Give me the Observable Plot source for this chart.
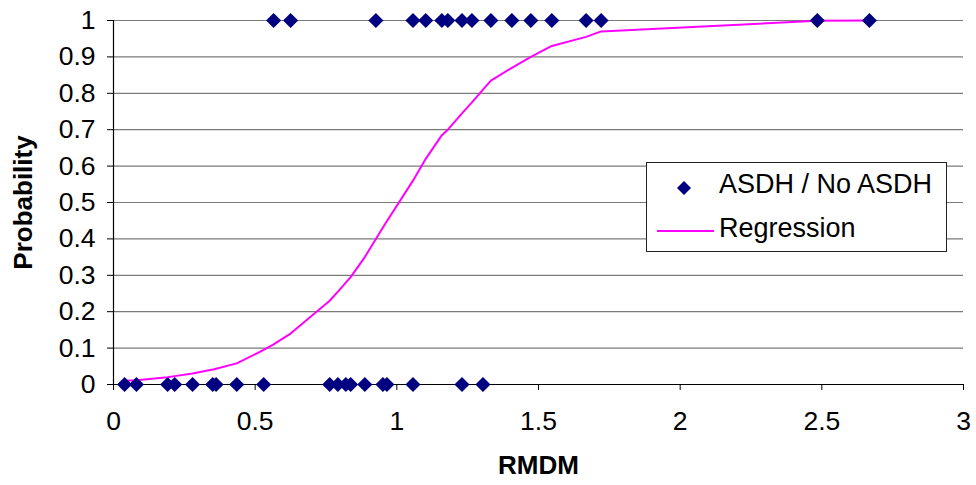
<!DOCTYPE html>
<html>
<head>
<meta charset="utf-8">
<script src="https://cdn.jsdelivr.net/npm/d3@7"></script>
<script src="https://cdn.jsdelivr.net/npm/@observablehq/plot@0.6"></script>
<style>
  body { margin: 0; background: white; }
  #wrap { position: relative; width: 976px; height: 485px; font-family: "Liberation Sans", Arial, sans-serif; }
  #wrap g[aria-label$="tick label"] { font-size: 26.5px; }
  #legend { position: absolute; left: 646px; top: 162px; width: 299px; height: 88px; border: 1px solid #222; background: white; }
  #legend svg { font-family: "Liberation Sans", Arial, sans-serif; font-size: 27px; }
</style>
</head>
<body>
<div id="wrap"></div>
<script>
// Observed outcomes (ASDH = 1, No ASDH = 0)
const asdhX = [0.565, 0.625, 0.926, 1.057, 1.102, 1.159, 1.180, 1.230, 1.265, 1.332, 1.406, 1.473, 1.547, 1.668, 1.721, 2.484, 2.668];
const noAsdhX = [0.039, 0.081, 0.191, 0.216, 0.279, 0.350, 0.362, 0.435, 0.530, 0.763, 0.792, 0.820, 0.837, 0.887, 0.951, 0.965, 1.057, 1.230, 1.304];
// Regression curve
const regX = [0.039, 0.081, 0.191, 0.216, 0.279, 0.355, 0.435, 0.530, 0.565, 0.625, 0.763, 0.792, 0.820, 0.837, 0.887, 0.926, 0.958, 1.057, 1.102, 1.159, 1.180, 1.230, 1.265, 1.304, 1.332, 1.406, 1.473, 1.547, 1.668, 1.721, 2.484, 2.668];
const regP = [0.010, 0.012, 0.020, 0.023, 0.030, 0.042, 0.058, 0.095, 0.110, 0.140, 0.230, 0.255, 0.280, 0.295, 0.350, 0.400, 0.440, 0.560, 0.620, 0.685, 0.700, 0.745, 0.775, 0.810, 0.835, 0.870, 0.900, 0.930, 0.955, 0.970, 0.999, 1.000];
// Axis ticks
const xTicks = [0, 0.5, 1, 1.5, 2, 2.5, 3];
const yTicks = [0, 0.1, 0.2, 0.3, 0.4, 0.5, 0.6, 0.7, 0.8, 0.9, 1];
const xLabel = "RMDM";
const yLabel = "Probability";
const seriesNames = ["ASDH / No ASDH", "Regression"];

const points = [
  ...asdhX.map(x => ({x, y: 1})),
  ...noAsdhX.map(x => ({x, y: 0}))
];
const reg = regX.map((x, i) => ({x, y: regP[i]}));

const font = "'Liberation Sans', Arial, sans-serif";

const chart = Plot.plot({
  width: 976,
  height: 485,
  marginLeft: 113,
  marginRight: 13,
  marginTop: 20,
  marginBottom: 101,
  style: { fontFamily: font, fontSize: "26px", color: "black", background: "white", overflow: "visible" },
  x: { domain: [0, 3] },
  y: { domain: [0, 1] },
  marks: [
    Plot.ruleY(yTicks, { stroke: "#7a7a7a", strokeWidth: 1.2 }),
    Plot.ruleY([0], { stroke: "black", strokeWidth: 1.2 }),
    Plot.ruleX([0], { stroke: "black", strokeWidth: 1.2 }),
    Plot.axisX({ ticks: xTicks, tickSize: 6, tickPadding: 21, tickFormat: d => String(d), label: null }),
    Plot.axisY({ ticks: yTicks, tickSize: 6, tickPadding: 12, tickFormat: d => String(d), label: null }),
    Plot.line(reg, { x: "x", y: "y", stroke: "#FF00FF", strokeWidth: 2 }),
    Plot.dot(points, { x: "x", y: "y", symbol: "diamond2", r: 6.8, fill: "#000080", stroke: "none" }),
    Plot.text([xLabel], { frameAnchor: "bottom", dy: 89, fontWeight: "bold", fontSize: 26 }),
    Plot.text([yLabel], { frameAnchor: "left", textAnchor: "middle", dx: -90, rotate: -90, fontWeight: "bold", fontSize: 26 })
  ]
});

const wrap = document.getElementById("wrap");
wrap.appendChild(chart);

const legend = document.createElement("div");
legend.id = "legend";
legend.innerHTML = `
<svg width="299" height="88">
  <path d="M37,18 L44,25 L37,32 L30,25 Z" fill="#000080"/>
  <text x="72" y="30" fill="black">${seriesNames[0]}</text>
  <line x1="10" x2="67" y1="68" y2="68" stroke="#FF00FF" stroke-width="2"/>
  <text x="72" y="74" fill="black">${seriesNames[1]}</text>
</svg>`;
wrap.appendChild(legend);
</script>
</body>
</html>
